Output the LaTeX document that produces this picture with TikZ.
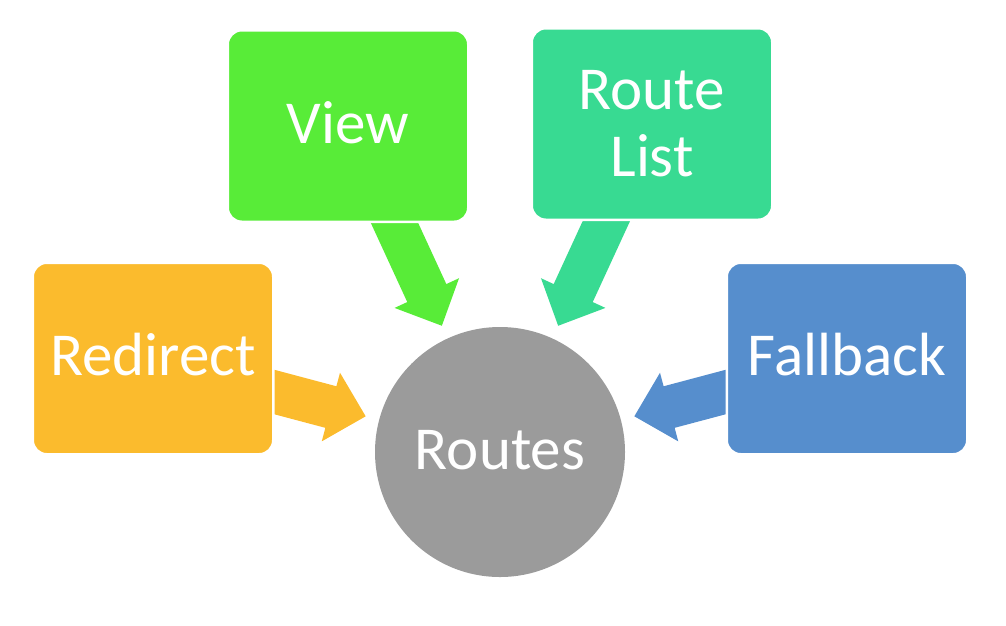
\documentclass[tikz,border=0pt]{standalone}
\usepackage{fontspec}
\setmainfont{Carlito}
\usetikzlibrary{calc}
\definecolor{cR}{RGB}{251,187,45}
\definecolor{cV}{RGB}{88,236,56}
\definecolor{cL}{RGB}{56,218,146}
\definecolor{cF}{RGB}{86,142,205}
\definecolor{cC}{RGB}{155,155,155}
\begin{document}
\begin{tikzpicture}[x=1pt,y=-1pt,
  box/.style={rounded corners=14pt, fill=#1, draw=white, line width=2.5pt,
    minimum width=240.5pt, minimum height=191.5pt, inner sep=0pt,
    text=white, font=\fontsize{61}{67}\selectfont, align=center},
  oneline/.style={text height=38.5pt, text depth=4pt},
  hub/.style={circle, fill=cC, minimum size=250pt, inner sep=0pt,
    text=white, font=\fontsize{61}{67}\selectfont, text height=38.5pt, text depth=4pt}]
\useasboundingbox (0,0) rectangle (1006,625);
\node[hub] (routes) at (500,452) {Routes};
\coordinate (sR) at (263,389);
\coordinate (sV) at (389,211);
\coordinate (sL) at (611,211);
\coordinate (sF) at (737,389);
\foreach \n/\c in {R/cR,V/cV,L/cL,F/cF}{
  \coordinate (t\n) at ($(routes.center)!139pt!(s\n)$);
  \coordinate (h\n) at ($(t\n)!36pt!(s\n)$);
  \fill[\c] ($(s\n)!21.5pt!90:(t\n)$) -- ($(h\n)!21.5pt!-90:(s\n)$)
    -- ($(h\n)!35.5pt!-90:(s\n)$) -- (t\n) -- ($(h\n)!35.5pt!90:(s\n)$)
    -- ($(h\n)!21.5pt!90:(s\n)$) -- ($(s\n)!21.5pt!-90:(t\n)$) -- cycle;
}
\node[box=cR, oneline] (redirect) at (153,358.5) {Redirect};
\node[box=cV, oneline] (view) at (348,126) {View};
\node[box=cL] (routelist) at (652,124) {Route\\List};
\node[box=cF, oneline] (fallback) at (847,358.5) {Fallback};
\end{tikzpicture}
\end{document}
